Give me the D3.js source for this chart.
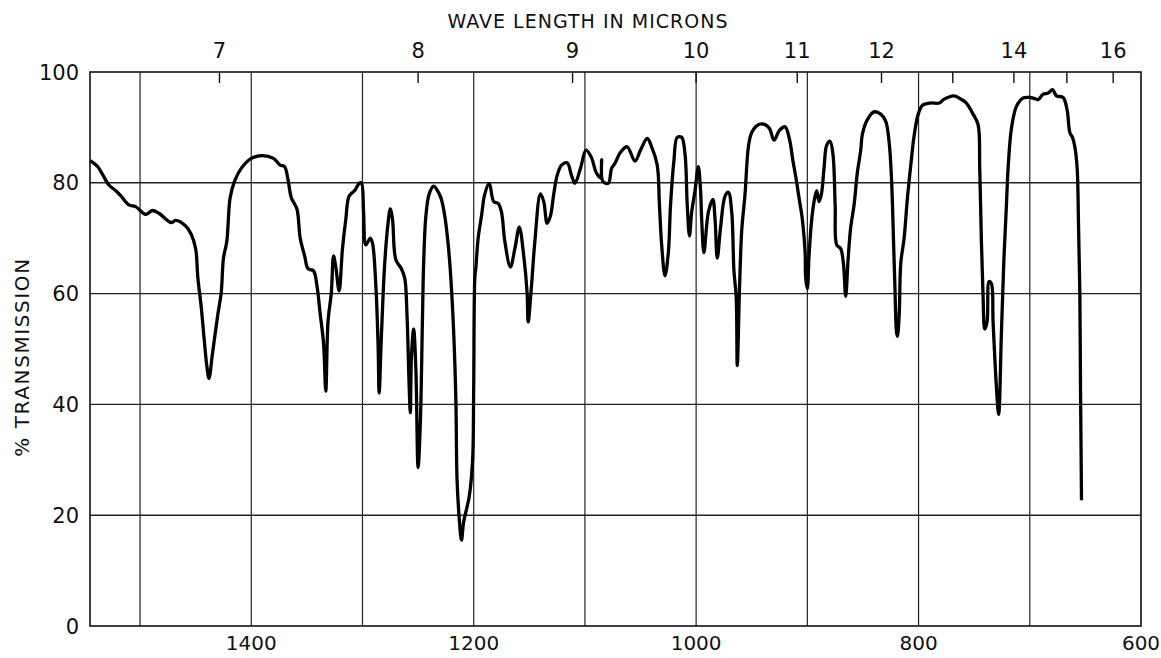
<!DOCTYPE html>
<html><head><meta charset="utf-8">
<script src="https://cdn.jsdelivr.net/npm/d3@7/dist/d3.min.js"></script>
<style>
html,body{margin:0;padding:0;background:#fff;}
svg text{font-family:"DejaVu Sans",sans-serif;fill:#111;}
</style></head>
<body><svg id="c" width="1161" height="658"></svg>
<script>
// wavenumber (cm-1) and % transmission
const wavenumber = [1545,1538,1534,1528,1522,1517,1510,1504,1495,1489,1483,1472,1468,1459,1454,1450,1448,1445,1442,1440,1438,1435,1430,1427,1425,1422,1419,1415,1409,1400,1390,1380,1374,1370,1367,1364,1359,1356,1352,1349,1344,1341,1338,1335,1333,1331,1328,1326,1324,1321,1318,1315,1312,1307,1303,1301,1299,1297,1293,1291,1288,1286,1285,1283,1280,1277,1275,1273,1270,1265,1262,1260,1258,1257,1256,1254,1252,1250,1248,1246,1245,1243,1240,1236,1231,1229,1226,1223,1221,1218,1216,1215,1213,1211,1209,1204,1201,1200,1199,1198,1196,1193,1190,1186,1182,1178,1175,1172,1167,1163,1159,1155,1152,1151,1148,1145,1140,1137,1134,1131,1128,1125,1121,1116,1112,1109,1104,1099,1094,1090,1086,1085,1084,1079,1076,1073,1068,1062,1055,1050,1044,1040,1035,1033,1031,1028,1025,1023,1020,1017,1013,1010,1008,1006,1004,1001,998,996,995,993,989,985,983,981,978,974,971,968,966,964,963,961,959,956,953,950,944,938,934,930,925,920,916,913,910,907.5,904.5,902,901.5,900,898.5,896.4,894,891.6,889.5,887.4,885,882.6,879.6,877,875,873.6,870,867.6,865.5,863.4,861,858,855,852,850.5,846,840,834,829.5,826.4,824.3,822.5,821.3,819.8,819,817.4,816,813,810,807,804,800.3,796.4,789,781.4,777,768,762,757,751,746.5,745,743.5,742,740.5,738.4,736.6,734.5,733,730,728,725.5,723.4,721,719.5,716.5,712,706,700,695.5,692.5,688,683.5,679.6,676,670,666.4,664,661.6,659.5,657.4,656.2,655,654.4,653.8,653.5];
const transmission = [84.0,82.9,81.6,79.6,78.6,77.6,76.0,75.7,74.3,75.0,74.5,72.8,73.2,72.2,70.7,68.1,62.8,57.6,51.0,47.0,44.7,49.0,56.3,60.2,66.4,69.4,77.3,80.3,82.6,84.4,84.9,84.4,83.2,82.9,80.6,77.3,75.3,70.0,66.8,64.5,64.1,61.5,56.3,51.0,42.4,54.9,60.2,66.8,64.8,60.5,68.1,73.4,77.6,78.6,79.9,80.0,74.7,68.8,70.0,69.1,61.5,51.0,42.1,52.3,65.5,72.7,75.3,73.4,66.1,64.5,62.8,56.3,43.1,38.5,48.4,53.6,46.4,28.6,36.5,56.3,65.5,74.0,78.0,79.4,78.0,77.0,74.0,69.0,64.1,53.0,40.5,26.6,19.4,15.5,18.8,23.4,29.9,43.1,62.8,64.8,70.0,74.0,78.0,79.9,76.6,76.3,74.7,69.4,64.8,68.1,72.0,66.8,60.2,54.9,61.5,69.4,78.0,76.6,72.7,74.0,78.0,81.3,83.2,83.6,81.3,79.9,82.6,85.9,84.5,81.9,80.9,84.2,80.3,79.9,82.6,83.5,85.5,86.5,83.9,85.9,88.0,86.5,83.2,76.0,68.8,63.2,67.4,76.0,83.9,88.2,88.2,85.2,76.0,70.4,74.7,78.6,82.9,78.6,73.4,67.4,74.7,77.0,73.4,66.4,72.0,77.6,78.3,74.7,64.1,59.5,47.0,60.9,71.4,78.0,86.5,89.1,90.5,90.5,89.8,87.7,89.5,90.1,87.8,84.0,80.6,77.3,73.4,67.4,62.8,60.9,66.8,72.7,76.6,78.6,76.6,77.9,82.6,86.8,87.5,85.2,76.0,68.8,68.1,65.5,59.5,66.1,72.0,76.0,81.9,85.9,88.8,91.4,92.8,92.4,91.1,87.2,80.6,69.4,61.5,53.0,52.3,56.3,65.5,70.0,77.3,83.2,88.5,92.4,94.0,94.4,94.4,95.1,95.7,95.1,94.4,92.4,90.5,82.6,69.4,59.5,53.6,54.9,62.2,61.8,54.9,43.1,38.2,53.0,65.5,76.0,82.6,89.8,93.8,95.3,95.4,95.2,95.0,96.0,96.2,96.8,95.7,95.4,93.1,89.1,88.2,86.5,82.6,72.7,60.2,43.1,29.9,22.7];

const bottomTicks = [1400,1200,1000,800,600];
const gridWavenumbers = [1500,1400,1300,1200,1100,1000,900,800,700];
const yTicks = [0,20,40,60,80,100];
const micronTicks = [7,8,9,10,11,12,13,14,15,16];
const micronLabels = [7,8,9,10,11,12,14,16];

const svg = d3.select("#c");
const L = 90, R = 1141, T = 72, B = 626;
const x = d3.scaleLinear().domain([1545, 600]).range([L, R]);
const y = d3.scaleLinear().domain([0, 100]).range([B, T]);

// grid
const g = svg.append("g");
g.selectAll(".vg").data(gridWavenumbers).enter().append("line")
  .attr("x1", d => x(d)).attr("x2", d => x(d)).attr("y1", T).attr("y2", B)
  .attr("stroke", "#222").attr("stroke-width", 1.2);
g.selectAll(".hg").data(yTicks.filter(d => d > 0 && d < 100)).enter().append("line")
  .attr("x1", L).attr("x2", R).attr("y1", d => y(d)).attr("y2", d => y(d))
  .attr("stroke", "#222").attr("stroke-width", 1.4);
g.append("rect").attr("x", L).attr("y", T).attr("width", R - L).attr("height", B - T)
  .attr("fill", "none").attr("stroke", "#111").attr("stroke-width", 1.6);

// top micron ticks
g.selectAll(".mt").data(micronTicks).enter().append("line")
  .attr("x1", d => x(10000 / d)).attr("x2", d => x(10000 / d))
  .attr("y1", T).attr("y2", T + 11).attr("stroke", "#111").attr("stroke-width", 1.4);
svg.selectAll(".ml").data(micronLabels).enter().append("text")
  .attr("x", d => x(10000 / d)).attr("y", 58).attr("text-anchor", "middle")
  .attr("font-size", 21).text(d => d);

// bottom labels
svg.selectAll(".bl").data(bottomTicks).enter().append("text")
  .attr("x", d => x(d)).attr("y", 650).attr("text-anchor", "middle")
  .attr("font-size", 20).text(d => d);

// y labels
svg.selectAll(".yl").data(yTicks).enter().append("text")
  .attr("x", 79).attr("y", d => y(d) + 7.5).attr("text-anchor", "end")
  .attr("font-size", 21).text(d => d);

// titles
svg.append("text").attr("x", 588).attr("y", 28).attr("text-anchor", "middle")
  .attr("font-size", 19).attr("letter-spacing", 1).text("WAVE LENGTH IN MICRONS");
svg.append("text").attr("transform", "translate(29,357) rotate(-90)")
  .attr("text-anchor", "middle").attr("font-size", 20).attr("letter-spacing", 1.6)
  .text("% TRANSMISSION");

// spectrum
const data = wavenumber.map((w, i) => ({ w, t: transmission[i] }));
const line = d3.line().x(d => x(d.w)).y(d => y(d.t)).curve(d3.curveCatmullRom.alpha(0.5));
svg.append("path").datum(data).attr("d", line).attr("fill", "none")
  .attr("stroke", "#000").attr("stroke-width", 3.3).attr("stroke-linejoin", "round");
</script></body></html>
